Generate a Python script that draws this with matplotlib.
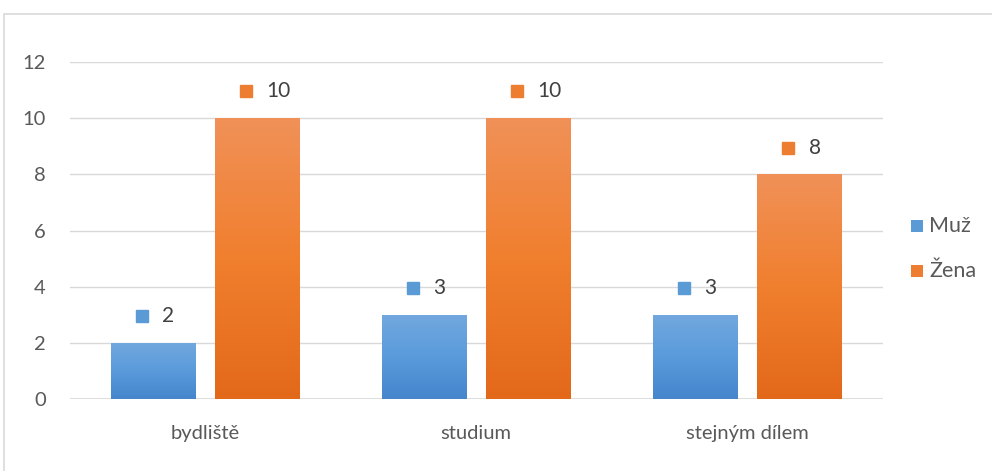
import numpy as np
import matplotlib
matplotlib.use("Agg")
import matplotlib.pyplot as plt
from matplotlib.patches import Rectangle
from matplotlib.colors import LinearSegmentedColormap

categories = ["bydliště", "studium", "stejným dílem"]
series_names = ["Muž", "Žena"]
muz = [2, 3, 3]
zena = [10, 10, 8]
yticks = [0, 2, 4, 6, 8, 10, 12]

plt.rcParams['font.family'] = ['Lato', 'DejaVu Sans']

W, H = 992, 471
fig = plt.figure(figsize=(W / 100, H / 100), dpi=100)
# outer border (right and bottom edges lie outside the image)
fig.patches.append(Rectangle((4 / W, -0.2), 1.3, 1.2 - 14 / H, transform=fig.transFigure,
                             fill=False, edgecolor='#d9d9d9', linewidth=1.2))

left, right = 69.5, 882.5
top0, bot0 = 62, 399
ax = fig.add_axes([left / W, 1 - bot0 / H, (right - left) / W, (bot0 - top0) / H])
ax.set_xlim(-0.5, 2.5)
ax.set_ylim(0, 12)

for s in ax.spines.values():
    s.set_visible(False)
ax.set_yticks(yticks)
ax.yaxis.grid(True, color='#d9d9d9', linewidth=1.0)
ax.set_axisbelow(True)
ax.tick_params(axis='both', length=0, colors='#595959', labelsize=14.5)
ax.tick_params(axis='y', pad=17)
ax.tick_params(axis='x', pad=19)
ax.set_xticks(range(len(categories)))
ax.set_xticklabels(categories)
ax.axhline(0, color='#d9d9d9', linewidth=1.2, zorder=1)

bw = 0.31
gap = 0.074
cmaps = [
    LinearSegmentedColormap.from_list('b', ['#4485cc', '#5a9bdc', '#72a8de']),
    LinearSegmentedColormap.from_list('o', ['#e3691a', '#f07f2e', '#f19158']),
]
solid = ['#5b9bd5', '#ed7d31']
grad = np.linspace(0, 1, 256).reshape(-1, 1)

for si, vals in enumerate([muz, zena]):
    offset = (-(bw + gap) / 2) if si == 0 else ((bw + gap) / 2)
    for ci, v in enumerate(vals):
        x0 = ci + offset - bw / 2
        sh = Rectangle((x0 + 0.004, -0.06), bw, v, facecolor='#000000', alpha=0.12,
                       edgecolor='none', zorder=2)
        ax.add_patch(sh)
        rect = Rectangle((x0, 0), bw, v, facecolor='none', edgecolor='none', zorder=3)
        ax.add_patch(rect)
        im = ax.imshow(grad, extent=(x0, x0 + bw, 0, v), origin='lower',
                       cmap=cmaps[si], aspect='auto', zorder=3)
        im.set_clip_path(rect)
        # data label with legend key
        ax.plot([ci + offset - 0.04], [v + 0.95], marker='s', markersize=9,
                color=solid[si], linestyle='none', zorder=4)
        ax.text(ci + offset + 0.035, v + 0.95, str(v), fontsize=15, color='#404040',
                va='center', ha='left', zorder=4)

ax.set_xlim(-0.5, 2.5)
ax.set_ylim(0, 12)

# legend
for i, (name, col) in enumerate(zip(series_names, solid)):
    yy = 1 - (226 + 45 * i) / H
    fig.patches.append(Rectangle((911 / W, yy - 6 / H), 12 / W, 12 / H,
                                 transform=fig.transFigure, facecolor=col, edgecolor='none'))
    fig.text(929 / W, yy, name, fontsize=15.5, color='#595959', va='center', ha='left')

fig.savefig('out.png', dpi=100)
